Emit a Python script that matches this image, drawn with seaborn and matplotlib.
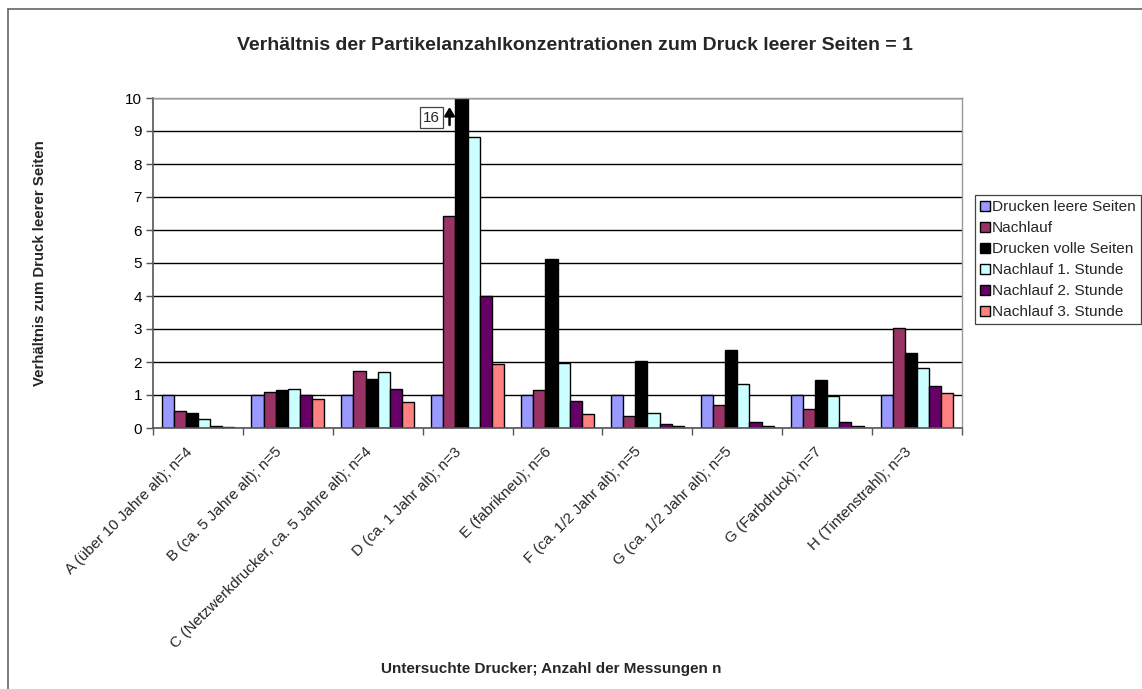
import matplotlib
matplotlib.use("Agg")
import matplotlib.pyplot as plt
from matplotlib.lines import Line2D
from matplotlib.transforms import offset_copy, ScaledTranslation
import numpy as np
import pandas as pd
import seaborn as sns

categories = [
    "A (über 10 Jahre alt); n=4",
    "B (ca. 5 Jahre alt); n=5",
    "C (Netzwerkdrucker, ca. 5 Jahre alt); n=4",
    "D (ca. 1 Jahr alt); n=3",
    "E (fabrikneu); n=6",
    "F (ca. 1/2 Jahr alt); n=5",
    "G (ca. 1/2 Jahr alt); n=5",
    "G (Farbdruck); n=7",
    "H (Tintenstrahl); n=3",
]

series_names = [
    "Drucken leere Seiten",
    "Nachlauf",
    "Drucken volle Seiten",
    "Nachlauf 1. Stunde",
    "Nachlauf 2. Stunde",
    "Nachlauf 3. Stunde",
]

drucken_leere = [1.0, 1.0, 1.0, 1.0, 1.0, 1.0, 1.0, 1.0, 1.0]
nachlauf = [0.52, 1.10, 1.73, 6.42, 1.15, 0.35, 0.69, 0.58, 3.02]
drucken_volle = [0.44, 1.15, 1.50, 16.0, 5.13, 2.04, 2.35, 1.44, 2.26]
nachlauf_1h = [0.26, 1.18, 1.71, 8.82, 1.98, 0.44, 1.34, 0.98, 1.82]
nachlauf_2h = [0.06, 0.99, 1.18, 4.01, 0.83, 0.12, 0.19, 0.17, 1.27]
nachlauf_3h = [0.02, 0.88, 0.80, 1.95, 0.42, 0.06, 0.06, 0.06, 1.05]

colors = ["#9999FF", "#993366", "#000000", "#CCFFFF", "#660066", "#FF8080"]

title = "Verhältnis der Partikelanzahlkonzentrationen zum Druck leerer Seiten = 1"
y_label = "Verhältnis zum Druck leerer Seiten"
x_label = "Untersuchte Drucker; Anzahl der Messungen n"
y_max = 10

values = [drucken_leere, nachlauf, drucken_volle, nachlauf_1h, nachlauf_2h, nachlauf_3h]
rows = []
for name, vals in zip(series_names, values):
    for cat, v in zip(categories, vals):
        rows.append({"Drucker": cat, "Serie": name, "Wert": v})
df = pd.DataFrame(rows)

sns.set_theme(style="white")
plt.rcParams["font.family"] = ["Liberation Sans", "DejaVu Sans"]

W, H = 1142, 689
fig = plt.figure(figsize=(W / 100, H / 100), dpi=100)
ax_left, ax_right, ax_top, ax_bottom = 153, 962, 98, 428
ax = fig.add_axes([ax_left / W, 1 - ax_bottom / H,
                   (ax_right - ax_left) / W, (ax_bottom - ax_top) / H])

sns.barplot(
    data=df, x="Drucker", y="Wert", hue="Serie",
    order=categories, hue_order=series_names,
    palette=colors, width=0.81, gap=0, edgecolor="black", linewidth=1.0,
    errorbar=None, ax=ax, saturation=1,
)

ax.set_ylim(0, y_max)
ax.set_xlim(-0.5, len(categories) - 0.5)
ax.set_yticks(range(0, y_max + 1))
ax.yaxis.grid(True, color="#000000", linewidth=1.0)
ax.set_axisbelow(True)

for side in ["top", "right"]:
    ax.spines[side].set_color("#999999")
    ax.spines[side].set_linewidth(1.0)
for side in ["left", "bottom"]:
    ax.spines[side].set_color("#555555")
    ax.spines[side].set_linewidth(1.2)

ax.tick_params(axis="y", which="major", direction="out", length=5, width=1,
               color="#555555", labelsize=11, labelcolor="#000000", pad=3, left=True)
ax.set_xticks(np.arange(len(categories)))
ax.set_xticks(np.arange(len(categories) + 1) - 0.5, minor=True)
ax.tick_params(axis="x", which="major", length=0, labelsize=11, pad=4)
ax.tick_params(axis="x", which="minor", direction="out", length=5, width=1,
               color="#555555", bottom=True)
ax.set_xticklabels(categories, rotation=45, ha="right", rotation_mode="anchor")
# move the slanted category labels a little left and down from the tick centre
label_shift = ScaledTranslation(-13 / 100, -11 / 100, fig.dpi_scale_trans)
for lbl in ax.get_xticklabels():
    lbl.set_transform(lbl.get_transform() + label_shift)

ax_w = ax_right - ax_left
ax_h = ax_bottom - ax_top
ax.set_xlabel(x_label, fontsize=11, fontweight="bold", labelpad=0)
ax.xaxis.set_label_coords((551 - ax_left) / ax_w, -(662 - ax_bottom) / ax_h)
ax.set_ylabel(y_label, fontsize=10.8, fontweight="bold")
ax.yaxis.set_label_coords(-(ax_left - 47) / ax_w, 0.5)

fig.text(575 / W, 1 - 46 / H, title, fontsize=14, fontweight="bold",
         ha="center", va="center")

# the bar exceeding the axis range: value box plus upward arrow beside it
clipped_bar = ax.containers[2][3]
bx = clipped_bar.get_x() + clipped_bar.get_width() / 2
value = clipped_bar.get_height()
box_tr = offset_copy(ax.transData, fig=fig, x=-30, y=-19.5, units="dots")
ax.text(bx, y_max, f"{value:.0f}", transform=box_tr, ha="center", va="center",
        fontsize=11, clip_on=False,
        bbox=dict(boxstyle="square,pad=0.22", fc="white", ec="#444444", lw=0.9))
arrow_tail = offset_copy(ax.transData, fig=fig, x=-12, y=-27, units="dots")
arrow_head = offset_copy(ax.transData, fig=fig, x=-12, y=-9, units="dots")
ax.annotate(
    "", xy=(bx, y_max), xycoords=arrow_head,
    xytext=(bx, y_max), textcoords=arrow_tail,
    arrowprops=dict(arrowstyle="-|>,head_length=0.5,head_width=0.3", color="black",
                    lw=1.8, mutation_scale=10, shrinkA=0, shrinkB=0),
    annotation_clip=False,
)

# legend outside on the right
handles, labels = ax.get_legend_handles_labels()
ax.legend(
    handles, labels, loc="upper left",
    bbox_to_anchor=(975 / W, 1 - 195 / H), bbox_transform=fig.transFigure,
    frameon=True, fancybox=False, edgecolor="#444444", framealpha=1,
    fontsize=11.1, handlelength=0.6, handleheight=0.6, handletextpad=0.15,
    labelspacing=0.45, borderpad=0.35, borderaxespad=0,
)
ax.get_legend().get_frame().set_linewidth(0.9)

# outer chart border (top and left edges)
fig.add_artist(Line2D([8 / W, 8 / W], [0, 1 - 9 / H], color="#666666", lw=1.2,
                      transform=fig.transFigure))
fig.add_artist(Line2D([8 / W, 1], [1 - 9 / H, 1 - 9 / H], color="#666666", lw=1.2,
                      transform=fig.transFigure))

fig.savefig("out.png", dpi=100)
